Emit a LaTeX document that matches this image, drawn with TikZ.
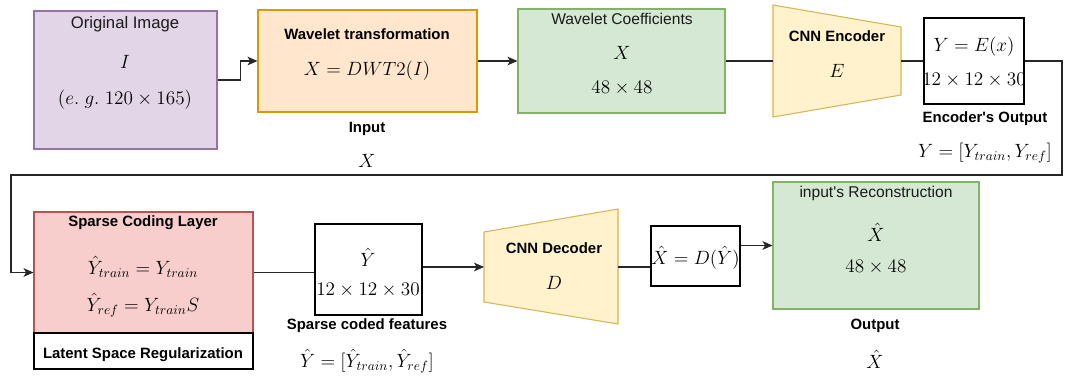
\documentclass[tikz,border=0pt]{standalone}
\usepackage[no-math]{fontspec}
\newfontfamily\labfont{Liberation Sans}
\usetikzlibrary{arrows.meta,fit}
\definecolor{purpleF}{HTML}{E1D5E7}\definecolor{purpleD}{HTML}{9673A6}
\definecolor{orangeF}{HTML}{FFE6CC}\definecolor{orangeD}{HTML}{D79B00}
\definecolor{greenF}{HTML}{D5E8D4}\definecolor{greenD}{HTML}{82B366}
\definecolor{yellowF}{HTML}{FFF2CC}\definecolor{yellowD}{HTML}{D6B656}
\definecolor{redF}{HTML}{F8CECC}\definecolor{redD}{HTML}{B85450}
\definecolor{txt}{HTML}{1A1A1A}
\begin{document}
\begin{tikzpicture}[x=0.75pt,y=-0.75pt,
  box/.style={rectangle,inner sep=0pt,line width=0.8pt},
  lab/.style={font=\labfont\fontsize{11.7}{14}\selectfont,inner sep=0pt,text=txt},
  blab/.style={font=\labfont\bfseries\fontsize{11.2}{13}\selectfont,inner sep=0pt,text=black},
  mth/.style={font=\fontsize{14}{16}\selectfont,inner sep=0pt},
  conn/.style={line width=0.8pt,draw=black!85},
  arr/.style={conn,-{Stealth[length=7.5pt,width=6.5pt,inset=2pt]}}]
\useasboundingbox (0,0) rectangle (1065,376);

% ---- top row boxes
\node[box,draw=purpleD,fill=purpleF,fit={(34,11) (217,149)}] (orig) {};
\node[box,draw=orangeD,fill=orangeF,fit={(258,10) (477,112)}] (wave) {};
\node[box,draw=greenD,fill=greenF,fit={(518,9) (725,113)}] (coef) {};
\draw[line width=0.8pt,draw=yellowD,fill=yellowF] (773,5) -- (901,27) -- (901,95) -- (773,117) -- cycle;
\coordinate (encL) at (773,61);
\coordinate (encR) at (901,61);
\node[box,draw=black,fill=white,fit={(924,18) (1024,104)}] (ybox) {};

% ---- bottom row boxes
\node[box,draw=redD,fill=redF,fit={(34,212) (253,333)}] (sparse) {};
\node[box,draw=black,fill=white,fit={(34,333) (253,369)}] (latent) {};
\node[box,draw=black,fill=white,fit={(315,224) (422,315)}] (yhat) {};
\draw[line width=0.8pt,draw=yellowD,fill=yellowF] (484,232) -- (618,209) -- (618,324) -- (484,302) -- cycle;
\coordinate (decL) at (484,267);
\coordinate (decR) at (618,267);
\node[box,draw=black,fill=white,fit={(651,226) (740,286)}] (xbox) {};
\node[box,draw=greenD,fill=greenF,fit={(773,182) (979,309)}] (rec) {};

% ---- texts
\node[lab,font=\labfont\fontsize{12.5}{15}\selectfont] (t1) at (125,24) {Original Image};
\node[mth] (t2) at (125,62) {$I$};
\node[mth] (t3) at (125,100) {$(e.\;g.\;120\times 165)$};

\node[blab] (t4) at (367,34) {Wavelet transformation};
\node[mth] (t5) at (367,71) {$X=DWT2(I)$};
\node[blab] (t6) at (367,129) {Input};
\node[mth] (t7) at (367,161) {$X$};

\node[lab] (t8) at (622,19) {Wavelet Coefficients};
\node[mth] (t9) at (622,53) {$X$};
\node[mth] (t10) at (622,88) {$48\times 48$};

\node[blab] (t11) at (837,36) {CNN Encoder};
\node[mth] (t12) at (837,71) {$E$};

\node[mth] (t13) at (974,47) {$Y=E(x)$};
\node[mth] (t14) at (974,80) {$12\times 12\times 30$};
\node[blab] (t15) at (985,119) {Encoder's Output};
\node[mth] (t16) at (985,153) {$Y=[Y_{train},Y_{ref}]$};

\node[blab] (t17) at (143,223) {Sparse Coding Layer};
\node[mth] (t18) at (143,267) {$\hat{Y}_{train}=Y_{train}$};
\node[mth] (t19) at (143,305) {$\hat{Y}_{ref}=Y_{train}S$};
\node[blab] (t20) at (143,355) {Latent Space Regularization};

\node[mth] (t21) at (368,257) {$\hat{Y}$};
\node[mth] (t22) at (368,290) {$12\times 12\times 30$};
\node[blab] (t23) at (367,326) {Sparse coded features};
\node[mth] (t24) at (367,361) {$\hat{Y}=[\hat{Y}_{train},\hat{Y}_{ref}]$};

\node[blab] (t25) at (554,248) {CNN Decoder};
\node[mth] (t26) at (554,283) {$D$};

\node[mth] (t27) at (695.5,258) {$\hat{X}=D(\hat{Y})$};

\node[lab] (t28) at (876,193) {input's Reconstruction};
\node[mth] (t29) at (876,232) {$\hat{X}$};
\node[mth] (t30) at (876,267) {$48\times 48$};
\node[blab] (t31) at (875,326) {Output};
\node[mth] (t32) at (875,359) {$\hat{X}$};

% ---- connectors
\draw[arr] (orig.east) -- ++(23,0) |- (wave.west);
\draw[arr] (wave.east) -- (coef.west);
\draw[conn] (coef.east) -- (encL);
\draw[conn] (encR) -- (ybox.west);
\coordinate (c1) at (1062,175);
\coordinate (c2) at (11,175);
\draw[arr] (ybox.east) -| (c1) -- (c2) |- (sparse.west);
\draw[conn] (sparse.east) -- (sparse.east -| yhat.west);
\draw[arr] (decL -| yhat.east) -- (decL);
\draw[conn] (decR) -- (decR -| xbox.west);
\draw[arr] (rec.west -| xbox.east) -- (rec.west);
\end{tikzpicture}
\end{document}
